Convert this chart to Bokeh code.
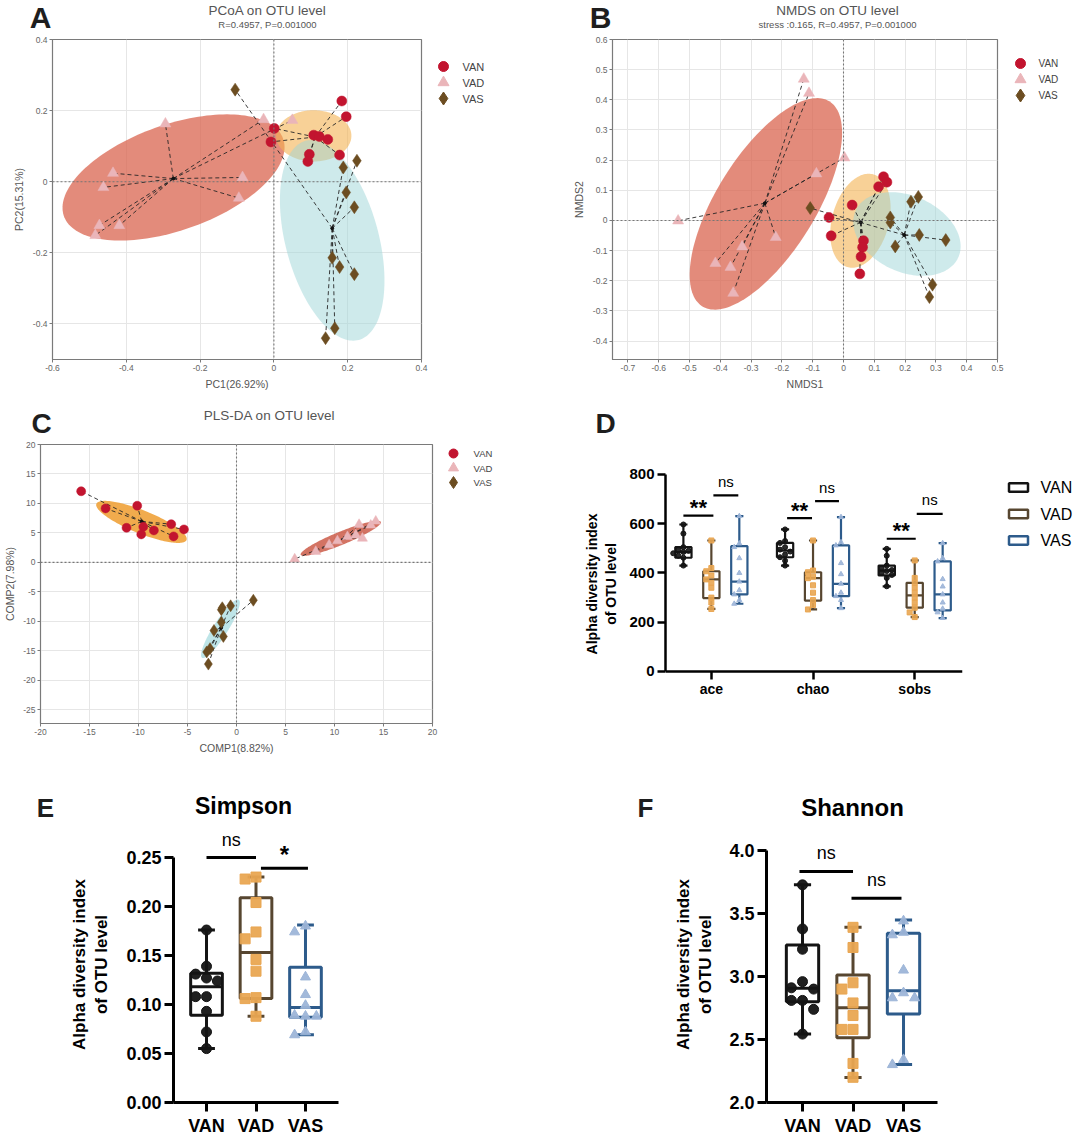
import numpy as np
from bokeh.plotting import figure
from bokeh.models import (ColumnDataSource, Span, FixedTicker, CustomJSTickFormatter, Range1d)
from bokeh.layouts import row, column
from bokeh.embed import file_html
from bokeh.resources import INLINE
from bokeh.core.properties import value

# ======================= DATA =======================
groups = ["VAN", "VAD", "VAS"]

# ---- A: PCoA on OTU level
pcoa_van_x = [0.001, -0.008, 0.184, 0.196, 0.108, 0.123, 0.146, 0.178, 0.096, 0.092]
pcoa_van_y = [0.150, 0.112, 0.227, 0.183, 0.131, 0.127, 0.119, 0.075, 0.077, 0.057]
pcoa_vad_x = [-0.294, -0.028, 0.050, -0.436, -0.462, -0.085, -0.095, -0.473, -0.419, -0.484]
pcoa_vad_y = [0.163, 0.175, 0.173, 0.024, -0.016, 0.012, -0.046, -0.123, -0.123, -0.151]
pcoa_vas_x = [-0.105, 0.188, 0.225, 0.196, 0.218, 0.158, 0.178, 0.218, 0.165, 0.140]
pcoa_vas_y = [0.259, 0.040, 0.059, -0.030, -0.072, -0.214, -0.240, -0.260, -0.412, -0.440]
# confidence ellipses: centre x, centre y, semi-axis 1 (dx, dy), semi-axis 2 (dx, dy)
pcoa_ell_van = [0.108, 0.129, 0.102, 0.0, 0.0, 0.072]
pcoa_ell_vad = [-0.272, 0.012, 0.297, 0.109, 0.048, -0.140]
pcoa_ell_vas = [0.158, -0.165, 0.072, -0.280, 0.122, 0.034]
pcoa_xticks = [-0.6, -0.4, -0.2, 0.0, 0.2, 0.4]
pcoa_yticks = [-0.4, -0.2, 0.0, 0.2, 0.4]

# ---- B: NMDS on OTU level
nmds_van_x = [0.130, 0.141, 0.114, 0.028, -0.047, -0.040, 0.065, 0.062, 0.057, 0.053]
nmds_van_y = [0.145, 0.127, 0.112, 0.051, 0.010, -0.051, -0.067, -0.089, -0.120, -0.177]
nmds_vad_x = [-0.129, -0.112, 0.003, -0.088, -0.537, -0.220, -0.329, -0.416, -0.367, -0.358]
nmds_vad_y = [0.469, 0.422, 0.208, 0.155, -0.001, -0.056, -0.087, -0.142, -0.155, -0.241]
nmds_vas_x = [-0.108, 0.243, 0.219, 0.152, 0.152, 0.246, 0.332, 0.168, 0.289, 0.279]
nmds_vas_y = [0.041, 0.078, 0.062, 0.010, -0.007, -0.048, -0.065, -0.086, -0.213, -0.254]
nmds_ell_van = [0.055, -0.001, 0.041, 0.154, 0.089, -0.024]
nmds_ell_vad = [-0.252, 0.055, 0.206, 0.340, 0.137, -0.086]
nmds_ell_vas = [0.206, -0.045, 0.166, -0.079, 0.053, 0.114]
nmds_xticks = [-0.7, -0.6, -0.5, -0.4, -0.3, -0.2, -0.1, 0.0, 0.1, 0.2, 0.3, 0.4, 0.5]
nmds_yticks = [-0.4, -0.3, -0.2, -0.1, 0.0, 0.1, 0.2, 0.3, 0.4, 0.5, 0.6]

# ---- C: PLS-DA on OTU level
plsda_van_x = [-15.85, -13.36, -10.13, -11.22, -9.51, -9.72, -8.43, -6.66, -6.42, -5.36]
plsda_van_y = [12.07, 9.16, 9.61, 5.87, 6.03, 4.75, 5.42, 6.48, 4.41, 5.59]
plsda_vad_x = [5.94, 8.09, 9.45, 10.30, 11.32, 12.51, 12.17, 12.85, 13.70, 14.21]
plsda_vad_y = [0.56, 1.84, 2.96, 3.63, 4.36, 6.42, 4.64, 4.08, 6.31, 6.98]
plsda_vas_x = [1.72, -0.60, -1.55, -1.45, -1.55, -2.30, -1.34, -2.70, -3.04, -2.87]
plsda_vas_y = [-6.42, -7.37, -8.04, -7.70, -10.17, -11.56, -12.57, -14.64, -15.20, -17.26]
plsda_ell_van = [-9.70, 6.87, 4.60, -3.07, 0.44, 1.82]
plsda_ell_vad = [10.64, 4.08, 4.09, 2.79, 0.26, -1.03]
plsda_ell_vas = [-1.64, -11.28, 1.87, 4.92, 0.64, -0.65]
plsda_xticks = [-20, -15, -10, -5, 0, 5, 10, 15, 20]
plsda_yticks = [-25, -20, -15, -10, -5, 0, 5, 10, 15, 20]

# ---- D: ace / chao / sobs   (box stats: min, q1, median, q3, max)
d_categories = ["ace", "chao", "sobs"]
d_van_stats = [[430, 462, 485, 505, 597], [430, 464, 491, 522, 577], [346, 390, 410, 430, 498]]
d_vad_stats = [[254, 298, 374, 407, 532], [252, 288, 379, 403, 532], [221, 259, 309, 360, 451]]
d_vas_stats = [[275, 313, 365, 509, 631], [257, 306, 356, 512, 627], [217, 248, 313, 447, 521]]
d_van_pts = [[597, 560, 505, 495, 490, 485, 480, 470, 462, 430],
             [577, 530, 522, 505, 495, 487, 475, 464, 450, 430],
             [498, 470, 430, 420, 412, 408, 400, 392, 380, 346]]
d_vad_pts = [[532, 420, 407, 390, 374, 360, 340, 300, 280, 254],
             [532, 410, 403, 385, 379, 350, 320, 290, 270, 252],
             [451, 380, 360, 340, 320, 300, 280, 259, 240, 221]]
d_vas_pts = [[631, 520, 505, 460, 400, 365, 330, 313, 290, 275],
             [627, 525, 512, 440, 395, 356, 320, 306, 290, 257],
             [521, 460, 447, 375, 345, 313, 280, 255, 240, 217]]
d_yticks = [0, 200, 400, 600, 800]
d_sig_x0 = [-0.275, 0.02, 0.745, 1.02, 1.725, 2.02]
d_sig_x1 = [0.02, 0.265, 0.99, 1.255, 2.01, 2.275]
d_sig_y = [633, 715, 623, 692, 539, 640]
d_sig_text = ["**", "ns", "**", "ns", "**", "ns"]

# ---- E: Simpson
simpson_van = [0.176, 0.139, 0.131, 0.127, 0.124, 0.108, 0.108, 0.093, 0.072, 0.055]
simpson_vad = [0.230, 0.228, 0.204, 0.174, 0.167, 0.146, 0.134, 0.107, 0.106, 0.088]
simpson_vas = [0.180, 0.174, 0.128, 0.110, 0.099, 0.089, 0.088, 0.088, 0.072, 0.069]
simpson_stats = [[0.055, 0.089, 0.118, 0.132, 0.176],
                 [0.088, 0.106, 0.153, 0.209, 0.230],
                 [0.069, 0.087, 0.097, 0.138, 0.181]]
simpson_yticks = [0.0, 0.05, 0.10, 0.15, 0.20, 0.25]
simpson_sig_x0 = [0.0, 1.1]
simpson_sig_x1 = [1.0, 2.05]
simpson_sig_y = [0.25, 0.239]
simpson_sig_text = ["ns", "*"]

# ---- F: Shannon
shannon_van = [3.727, 3.377, 3.216, 2.959, 2.91, 2.90, 2.81, 2.81, 2.739, 2.543]
shannon_vad = [3.39, 3.23, 2.95, 2.90, 2.79, 2.69, 2.58, 2.58, 2.31, 2.20]
shannon_vas = [3.44, 3.35, 3.33, 3.05, 2.87, 2.83, 2.83, 2.34, 2.30]
shannon_stats = [[2.543, 2.80, 2.906, 3.25, 3.727],
                 [2.199, 2.514, 2.752, 3.012, 3.39],
                 [2.302, 2.702, 2.887, 3.343, 3.449]]
shannon_yticks = [2.0, 2.5, 3.0, 3.5, 4.0]
shannon_sig_x0 = [-0.06, 0.97]
shannon_sig_x1 = [1.0, 1.96]
shannon_sig_y = [3.833, 3.621]
shannon_sig_text = ["ns", "ns"]

# ======================= STYLE =======================
SANS = "Liberation Sans"
sc_color = {"VAN": "#C2142F", "VAD": "#EAB5B9", "VAS": "#6C4D21"}
sc_marker = {"VAN": "circle", "VAD": "triangle", "VAS": "diamond"}
box_line = {"VAN": "#141414", "VAD": "#574630", "VAS": "#2D5B8B"}
box_pt = {"VAN": "#141414", "VAD": "#E9A652", "VAS": "#9DB5D8"}
box_marker = {"VAN": "circle", "VAD": "square", "VAS": "triangle"}
W = 1080


def ellipse_xy(e, n=160):
    cx, cy, ax, ay, bx, by = e
    t = np.linspace(0, 2 * np.pi, n)
    return cx + ax * np.cos(t) + bx * np.sin(t), cy + ay * np.cos(t) + by * np.sin(t)


def canvas(width, height, xr, yr, top=0, bottom=0):
    """Axis-less band used for titles, panel letters and legends (ranges in page pixels)."""
    p = figure(width=width, height=height, x_range=Range1d(*xr), y_range=Range1d(*yr),
               x_axis_type=None, y_axis_type=None, output_backend="svg",
               toolbar_location=None, min_border_left=0, min_border_right=0,
               min_border_top=top, min_border_bottom=bottom)
    p.outline_line_color = None
    return p


def put_text(p, x, y, text, size, style="normal", color="#555555", align="center"):
    p.text(x=[x], y=[y], text=[text], text_align=align, text_baseline="middle",
           text_font=value(SANS), text_font_size=size, text_font_style=style,
           text_color=color)


def scatter_panel(width, height, borders, xr, yr, xticks, yticks, dec, xlabel, ylabel,
                  ylab_std, pts, ells, ell_fill, ell_alpha, msize):
    left, right, top, bottom = borders
    p = figure(width=width, height=height, x_range=Range1d(*xr), y_range=Range1d(*yr),
               output_backend="svg", toolbar_location=None,
               min_border_left=left, min_border_right=right,
               min_border_top=top, min_border_bottom=bottom)
    p.outline_line_color = "#7a7a7a"
    p.outline_line_width = 1.2
    p.grid.grid_line_color = "#e6e6e6"
    p.xaxis.ticker = FixedTicker(ticks=xticks)
    p.yaxis.ticker = FixedTicker(ticks=yticks)
    code = "return Math.abs(tick) < 1e-9 ? '0' : tick.toFixed(d);"
    p.xaxis.formatter = CustomJSTickFormatter(args=dict(d=dec), code=code)
    p.yaxis.formatter = CustomJSTickFormatter(args=dict(d=dec), code=code)
    for ax in (p.xaxis[0], p.yaxis[0]):
        ax.axis_line_color = "#7a7a7a"
        ax.major_tick_line_color = "#7a7a7a"
        ax.major_tick_out = 3
        ax.major_tick_in = 0
        ax.minor_tick_line_color = None
        ax.major_label_text_font = SANS
        ax.major_label_text_font_size = "8.5px"
        ax.major_label_text_color = "#666666"
        ax.major_label_standoff = 2
        ax.axis_label_text_font = SANS
        ax.axis_label_text_font_size = "10.5px"
        ax.axis_label_text_font_style = "normal"
        ax.axis_label_text_color = "#555555"
    p.xaxis.axis_label = xlabel
    p.yaxis.axis_label = ylabel
    p.xaxis.axis_label_standoff = 4
    p.yaxis.axis_label_standoff = ylab_std

    for g in ("VAD", "VAN", "VAS"):
        ex, ey = ellipse_xy(ells[g])
        p.patch(ex, ey, fill_color=ell_fill[g], fill_alpha=ell_alpha[g], line_color=None)

    p.add_layout(Span(location=0, dimension="height", line_color="#777777",
                      line_dash="2 2", line_width=1.1))
    p.add_layout(Span(location=0, dimension="width", line_color="#777777",
                      line_dash="2 2", line_width=1.1))

    for g in groups:
        xs, ys = pts[g]
        cx, cy = float(np.mean(xs)), float(np.mean(ys))
        n = len(xs)
        p.segment(x0=[cx] * n, y0=[cy] * n, x1=xs, y1=ys, line_color="#262626",
                  line_dash="4 3", line_width=0.9)
        p.scatter([cx], [cy], marker="circle", size=3, color="#111111")

    for g in groups:
        xs, ys = pts[g]
        p.scatter(xs, ys, marker=sc_marker[g], size=msize[g],
                  fill_color=sc_color[g], line_color=sc_color[g], line_width=0.5)
    return p


def marker_legend(width, height, xr, top, bottom, frame_top, frame_bottom,
                  gx, gy0, step, tx, sizes, font_size):
    p = canvas(width, height, xr, (frame_bottom, frame_top), top, bottom)
    ys = [gy0 + i * step for i in range(len(groups))]
    src = ColumnDataSource(dict(x=[gx] * len(groups), y=ys,
                                marker=[sc_marker[g] for g in groups],
                                color=[sc_color[g] for g in groups],
                                size=[sizes[g] for g in groups]))
    p.scatter(x="x", y="y", marker="marker", size="size", fill_color="color",
              line_color="color", source=src)
    p.text(x=[tx] * len(groups), y=ys, text=groups, text_align="left",
           text_baseline="middle", text_font=value(SANS), text_font_size=font_size,
           text_color="#444444")
    return p


def swarm_offsets(vals, min_dy, step):
    vals = np.asarray(vals, dtype=float)
    order = np.argsort(-vals, kind="stable")
    offs = np.zeros(len(vals))
    placed = []
    for i in order:
        o = 0.0
        for k in (0, -1, 1, -2, 2, -3, 3):
            o = k * step
            if all(abs(vals[i] - pv) >= min_dy or abs(o - po) >= step * 0.999 for pv, po in placed):
                break
        offs[i] = o
        placed.append((vals[i], o))
    return offs


def draw_box(p, xs, stats, bw, cap, color, lw):
    st = np.asarray(stats, dtype=float)
    xs = np.asarray(xs, dtype=float)
    mn, q1, md, q3, mx = st[:, 0], st[:, 1], st[:, 2], st[:, 3], st[:, 4]
    p.segment(x0=xs, y0=mn, x1=xs, y1=mx, line_color=color, line_width=lw)
    p.segment(x0=xs - cap / 2, y0=mn, x1=xs + cap / 2, y1=mn, line_color=color, line_width=lw)
    p.segment(x0=xs - cap / 2, y0=mx, x1=xs + cap / 2, y1=mx, line_color=color, line_width=lw)
    p.quad(left=xs - bw / 2, right=xs + bw / 2, bottom=q1, top=q3,
           fill_color="white", line_color=color, line_width=lw)
    p.segment(x0=xs - bw / 2, y0=md, x1=xs + bw / 2, y1=md, line_color=color, line_width=lw)


def add_sig(p, x0, x1, y, labels, lw, ns_size, st_size, ns_off, st_off):
    p.segment(x0=x0, y0=y, x1=x1, y1=y, line_color="black", line_width=lw)
    xm = [(a + b) / 2 for a, b in zip(x0, x1)]
    ns = [i for i, t in enumerate(labels) if t == "ns"]
    st = [i for i, t in enumerate(labels) if t != "ns"]
    if ns:
        p.text(x=[xm[i] for i in ns], y=[y[i] for i in ns], text=[labels[i] for i in ns],
               text_align="center", text_baseline="alphabetic", text_font=value(SANS),
               text_font_size=ns_size, y_offset=ns_off, text_color="black")
    if st:
        p.text(x=[xm[i] for i in st], y=[y[i] for i in st], text=[labels[i] for i in st],
               text_align="center", text_baseline="alphabetic", text_font=value(SANS),
               text_font_size=st_size, text_font_style="bold", y_offset=st_off,
               text_color="black")


def style_box_axes(p, ytick_size, xtick_size, lab_size, ylabel, tick_len, lw, yticks,
                   ybounds, ydec, xlabels, lab_std, xstandoff):
    p.outline_line_color = None
    p.grid.grid_line_color = None
    p.yaxis.ticker = FixedTicker(ticks=yticks)
    p.yaxis.bounds = ybounds
    p.yaxis.formatter = CustomJSTickFormatter(args=dict(d=ydec), code="return tick.toFixed(d);")
    p.xaxis.ticker = FixedTicker(ticks=list(range(len(xlabels))))
    p.xaxis.formatter = CustomJSTickFormatter(args=dict(labels=xlabels),
                                              code="return labels[Math.round(tick)];")
    for ax in (p.xaxis[0], p.yaxis[0]):
        ax.axis_line_color = "black"
        ax.axis_line_width = lw
        ax.major_tick_line_color = "black"
        ax.major_tick_line_width = lw
        ax.major_tick_out = tick_len
        ax.major_tick_in = 0
        ax.minor_tick_line_color = None
        ax.major_label_text_font = SANS
        ax.major_label_text_font_style = "bold"
        ax.major_label_text_color = "black"
    p.yaxis.major_label_text_font_size = ytick_size
    p.xaxis.major_label_text_font_size = xtick_size
    p.yaxis.major_label_standoff = 3
    p.xaxis.major_label_standoff = xstandoff
    p.xaxis.axis_label = None
    p.yaxis.axis_label = ylabel
    p.yaxis.axis_label_text_font = SANS
    p.yaxis.axis_label_text_font_style = "bold"
    p.yaxis.axis_label_text_font_size = lab_size
    p.yaxis.axis_label_text_color = "black"
    p.yaxis.axis_label_standoff = lab_std


LETTER_COLOR = "#1e1e1e"

# ======================= TITLE BAND 1 (page y 0..34) =======================
s1 = canvas(W, 34, (0, W), (34, 0))
put_text(s1, 40, 17, "A", "30px", style="bold", color=LETTER_COLOR)
put_text(s1, 267, 9.5, "PCoA on OTU level", "13.5px")
put_text(s1, 267, 23.5, "R=0.4957, P=0.001000", "9.5px")
put_text(s1, 600, 17, "B", "30px", style="bold", color=LETTER_COLOR)
put_text(s1, 837, 9.5, "NMDS on OTU level", "13.5px")
put_text(s1, 837, 23.5, "stress :0.165, R=0.4957, P=0.001000", "9.5px")

# ======================= ROW 1: A, B (page y 34..401, frames 39..359) =======================
R1H, R1T, R1B = 367, 5, 42
pA = scatter_panel(429, R1H, (52, 8, R1T, R1B), (-0.6, 0.4), (-0.5, 0.4),
                   pcoa_xticks, pcoa_yticks, 1, "PC1(26.92%)", "PC2(15.31%)", 5,
                   {"VAN": (pcoa_van_x, pcoa_van_y), "VAD": (pcoa_vad_x, pcoa_vad_y),
                    "VAS": (pcoa_vas_x, pcoa_vas_y)},
                   {"VAN": pcoa_ell_van, "VAD": pcoa_ell_vad, "VAS": pcoa_ell_vas},
                   {"VAN": "#F4B352", "VAD": "#D9644F", "VAS": "#9ED6D8"},
                   {"VAN": 0.6, "VAD": 0.75, "VAS": 0.5},
                   {"VAN": 10, "VAD": 11, "VAS": 13})
legA = marker_legend(111, R1H, (429, 540), R1T, R1B, 39, 359, 443, 66, 16, 462,
                     {"VAN": 10, "VAD": 11, "VAS": 13}, "11px")
pB = scatter_panel(465, R1H, (72, 8, R1T, R1B), (-0.75, 0.5), (-0.461, 0.6),
                   nmds_xticks, nmds_yticks, 1, "NMDS1", "NMDS2", 5,
                   {"VAN": (nmds_van_x, nmds_van_y), "VAD": (nmds_vad_x, nmds_vad_y),
                    "VAS": (nmds_vas_x, nmds_vas_y)},
                   {"VAN": nmds_ell_van, "VAD": nmds_ell_vad, "VAS": nmds_ell_vas},
                   {"VAN": "#F4B352", "VAD": "#D9644F", "VAS": "#9ED6D8"},
                   {"VAN": 0.6, "VAD": 0.75, "VAS": 0.5},
                   {"VAN": 10, "VAD": 11, "VAS": 13})
legB = marker_legend(75, R1H, (1005, 1080), R1T, R1B, 39, 359, 1020, 63, 16, 1038,
                     {"VAN": 10, "VAD": 11, "VAS": 13}, "10px")

# ======================= TITLE BAND 2 (page y 401..439) =======================
s2 = canvas(W, 38, (0, W), (38, 0))
put_text(s2, 41, 22, "C", "28px", style="bold", color=LETTER_COLOR)
put_text(s2, 269, 14, "PLS-DA on OTU level", "13.5px")
put_text(s2, 605, 22, "D", "28px", style="bold", color=LETTER_COLOR)

# ======================= ROW 2: C, D (page y 439..765, frames 444..723) =======================
R2H, R2T, R2B = 326, 5, 42
pC = scatter_panel(440, R2H, (40, 8, R2T, R2B), (-20, 20), (-27.34, 20),
                   plsda_xticks, plsda_yticks, 0, "COMP1(8.82%)", "COMP2(7.98%)", 4,
                   {"VAN": (plsda_van_x, plsda_van_y), "VAD": (plsda_vad_x, plsda_vad_y),
                    "VAS": (plsda_vas_x, plsda_vas_y)},
                   {"VAN": plsda_ell_van, "VAD": plsda_ell_vad, "VAS": plsda_ell_vas},
                   {"VAN": "#EE9C2E", "VAD": "#C8503C", "VAS": "#A8DCE0"},
                   {"VAN": 0.85, "VAD": 0.8, "VAS": 0.75},
                   {"VAN": 9, "VAD": 10, "VAS": 12})
legC = marker_legend(120, R2H, (440, 560), R2T, R2B, 444, 723, 453, 453, 14.5, 473,
                     {"VAN": 9, "VAD": 10, "VAS": 12}, "9.5px")

# D shares the row's frame (444..723); 0 sits at page y 671 and 800 at 474
pD = figure(width=410, height=R2H, x_range=Range1d(-0.451, 2.47), y_range=Range1d(-211.2, 921.8),
            output_backend="svg", toolbar_location=None,
            min_border_left=105, min_border_right=8, min_border_top=R2T, min_border_bottom=R2B)
style_box_axes(pD, "15px", "14px", "14px", "Alpha diversity index\nof OTU level", 8, 2.5,
               d_yticks, (0, 800), 0, d_categories, 7, 2)
pD.xaxis.fixed_location = 0
d_offsets = {"VAN": -0.275, "VAD": 0.0, "VAS": 0.275}
d_stats = {"VAN": d_van_stats, "VAD": d_vad_stats, "VAS": d_vas_stats}
d_pts = {"VAN": d_van_pts, "VAD": d_vad_pts, "VAS": d_vas_pts}
for g in groups:
    xs = [i + d_offsets[g] for i in range(len(d_categories))]
    draw_box(pD, xs, d_stats[g], 0.16, 0.08, box_line[g], 2.2)
    for i, vals in enumerate(d_pts[g]):
        offs = swarm_offsets(vals, 20, 0.05)
        pD.scatter(np.full(len(vals), xs[i]) + offs, vals, marker=box_marker[g], size=5,
                   fill_color=box_pt[g], line_color=box_pt[g], fill_alpha=0.9)
add_sig(pD, d_sig_x0, d_sig_x1, d_sig_y, d_sig_text, 2.2, "15px", "22px", -14, -8)

legD = canvas(110, R2H, (970, 1080), (723, 444), R2T, R2B)
legD_y = [487, 513.5, 540]
legD.rect(x=[1018] * 3, y=legD_y, width=19, height=8.5, fill_color="white",
          line_color=[box_line[g] for g in groups], line_width=2.5)
legD.text(x=[1040] * 3, y=legD_y, text=groups, text_align="left", text_baseline="middle",
          text_font=value(SANS), text_font_size="16px", text_color="black")

# ======================= TITLE BAND 3 (page y 765..822) =======================
s3 = canvas(W, 57, (0, W), (57, 0))
put_text(s3, 45, 42, "E", "26px", style="bold", color=LETTER_COLOR)
put_text(s3, 243, 40, "Simpson", "23px", style="bold", color="black")
put_text(s3, 645, 42, "F", "26px", style="bold", color=LETTER_COLOR)
put_text(s3, 852, 42, "Shannon", "24px", style="bold", color="black")

# ======================= ROW 3: E, F (page y 822..1138, frames 826..1102) =======================
R3H, R3T, R3B = 316, 4, 36
pE = figure(width=560, height=R3H, x_range=Range1d(-0.667, 2.667), y_range=Range1d(0, 0.2816),
            output_backend="svg", toolbar_location=None,
            min_border_left=173, min_border_right=222, min_border_top=R3T, min_border_bottom=R3B)
style_box_axes(pE, "18px", "18px", "17px", "Alpha diversity index\nof OTU level", 9, 3,
               simpson_yticks, (0, 0.25), 2, groups, 12, 4)
e_vals = {"VAN": simpson_van, "VAD": simpson_vad, "VAS": simpson_vas}
for i, g in enumerate(groups):
    draw_box(pE, [i], [simpson_stats[i]], 0.64, 0.34, box_line[g], 3)
    offs = swarm_offsets(e_vals[g], 0.0105, 0.22)
    pE.scatter(i + offs, e_vals[g], marker=box_marker[g], size=10,
               fill_color=box_pt[g], line_color=box_pt[g], fill_alpha=0.95)
add_sig(pE, simpson_sig_x0, simpson_sig_x1, simpson_sig_y, simpson_sig_text, 3,
        "18px", "24px", -17, -14)

pF = figure(width=520, height=R3H, x_range=Range1d(-0.713, 2.673), y_range=Range1d(2.0, 4.19),
            output_backend="svg", toolbar_location=None,
            min_border_left=206, min_border_right=143, min_border_top=R3T, min_border_bottom=R3B)
style_box_axes(pF, "18px", "18px", "17px", "Alpha diversity index\nof OTU level", 9, 3,
               shannon_yticks, (2.0, 4.0), 1, groups, 11, 4)
f_vals = {"VAN": shannon_van, "VAD": shannon_vad, "VAS": shannon_vas}
for i, g in enumerate(groups):
    draw_box(pF, [i], [shannon_stats[i]], 0.64, 0.34, box_line[g], 3)
    offs = swarm_offsets(f_vals[g], 0.08, 0.22)
    pF.scatter(i + offs, f_vals[g], marker=box_marker[g], size=10,
               fill_color=box_pt[g], line_color=box_pt[g], fill_alpha=0.95)
add_sig(pF, shannon_sig_x0, shannon_sig_x1, shannon_sig_y, shannon_sig_text, 3,
        "18px", "24px", -18, -11)

layout = column(s1, row(pA, legA, pB, legB), s2, row(pC, legC, pD, legD), s3, row(pE, pF))
open("out.html", "w").write(file_html(layout, INLINE))
